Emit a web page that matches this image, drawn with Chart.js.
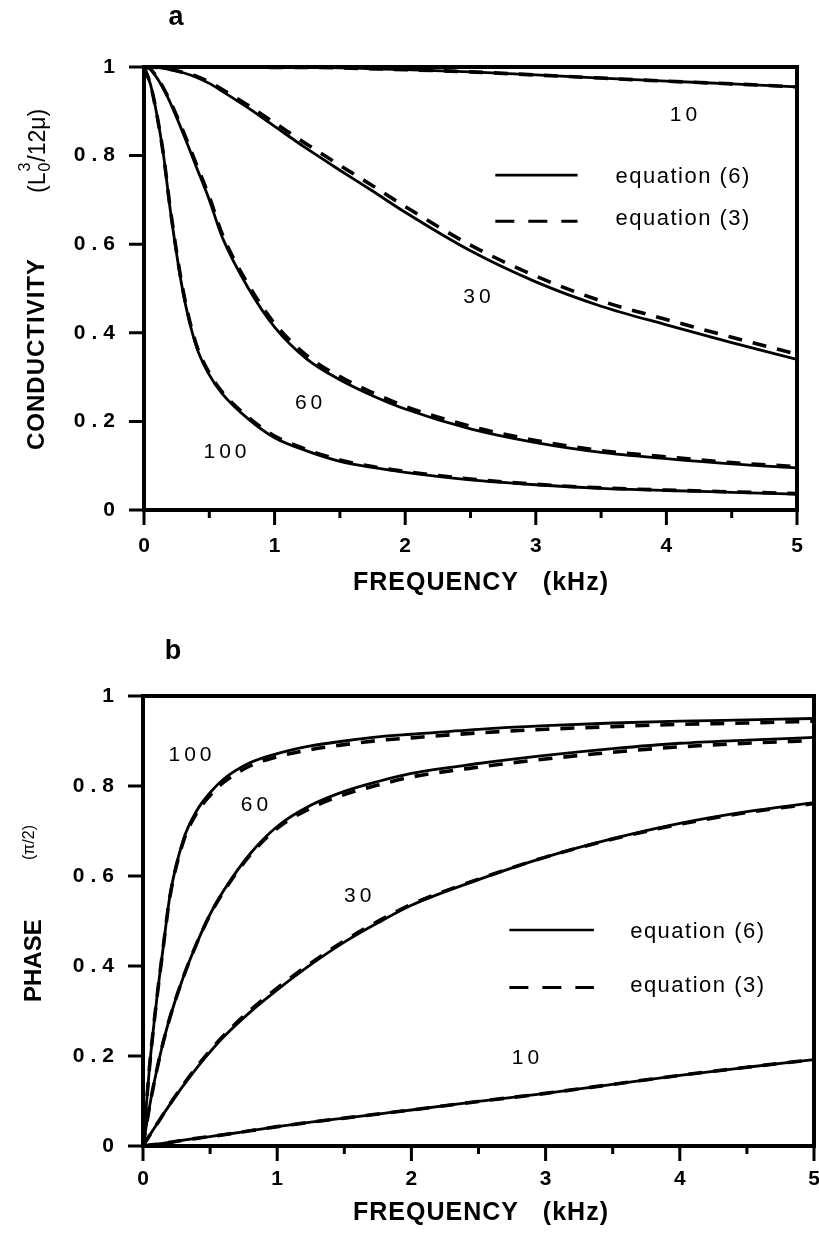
<!DOCTYPE html>
<html>
<head>
<meta charset="utf-8">
<script src="https://cdn.jsdelivr.net/npm/chart.js"></script>
<style>
  html, body { margin: 0; padding: 0; background: #fff; }
  #wrap { position: relative; width: 819px; height: 1235px; }
  canvas { position: absolute; left: 0; }
</style>
</head>
<body>
<div id="wrap">
  <canvas id="condChart" width="819" height="620" style="top:0"></canvas>
  <canvas id="phaseChart" width="819" height="615" style="top:620px"></canvas>
</div>
<script>
// frequency grid (kHz), shared by every curve
const freq = [0, 0.05, 0.1, 0.15, 0.2, 0.3, 0.4, 0.5, 0.6, 0.8, 1, 1.25, 1.5, 1.75, 2, 2.5, 3, 3.5, 4, 4.5, 5];

// a: normalised conductivity, eq (6) solid and eq (3) dashed
const cond6_10  = [1, 1, 1, 1, 1, 1, 1, 1, 1, 1, 0.999, 0.999, 0.998, 0.996, 0.994, 0.989, 0.982, 0.975, 0.968, 0.962, 0.955];
const cond3_10  = [1, 1, 1, 1, 1, 1, 1, 1, 1, 1, 0.999, 0.999, 0.998, 0.996, 0.994, 0.989, 0.982, 0.975, 0.968, 0.962, 0.955];
const cond6_30  = [1, 1, 0.999, 0.997, 0.994, 0.987, 0.977, 0.963, 0.945, 0.907, 0.866, 0.815, 0.767, 0.72, 0.672, 0.585, 0.515, 0.46, 0.418, 0.378, 0.34];
const cond3_30  = [1, 1, 0.999, 0.997, 0.995, 0.988, 0.979, 0.966, 0.949, 0.913, 0.874, 0.825, 0.778, 0.732, 0.685, 0.598, 0.528, 0.472, 0.43, 0.39, 0.352];
const cond6_60  = [1, 0.995, 0.975, 0.95, 0.92, 0.85, 0.775, 0.70, 0.615, 0.50, 0.413, 0.34, 0.294, 0.258, 0.228, 0.183, 0.152, 0.13, 0.116, 0.104, 0.095];
const cond3_60  = [1, 0.995, 0.976, 0.952, 0.923, 0.855, 0.781, 0.707, 0.622, 0.508, 0.421, 0.348, 0.301, 0.265, 0.234, 0.189, 0.157, 0.134, 0.12, 0.107, 0.098];
const cond6_100 = [1, 0.96, 0.89, 0.80, 0.68, 0.49, 0.37, 0.305, 0.262, 0.205, 0.163, 0.133, 0.11, 0.096, 0.085, 0.068, 0.057, 0.049, 0.044, 0.04, 0.036];
const cond3_100 = [1, 0.96, 0.89, 0.80, 0.683, 0.494, 0.374, 0.309, 0.266, 0.209, 0.167, 0.136, 0.113, 0.098, 0.087, 0.07, 0.058, 0.05, 0.045, 0.041, 0.037];

// b: phase in units of pi/2
const phase6_10  = [0, 0.002, 0.004, 0.006, 0.008, 0.013, 0.017, 0.021, 0.025, 0.034, 0.043, 0.053, 0.062, 0.071, 0.08, 0.099, 0.117, 0.137, 0.157, 0.175, 0.192];
const phase3_10  = [0, 0.002, 0.004, 0.006, 0.008, 0.013, 0.017, 0.021, 0.025, 0.034, 0.043, 0.053, 0.062, 0.071, 0.08, 0.099, 0.117, 0.137, 0.157, 0.175, 0.192];
const phase6_30  = [0, 0.024, 0.047, 0.07, 0.092, 0.134, 0.173, 0.209, 0.242, 0.298, 0.347, 0.403, 0.453, 0.496, 0.535, 0.592, 0.642, 0.683, 0.717, 0.743, 0.763];
const phase3_30  = [0, 0.024, 0.047, 0.07, 0.093, 0.136, 0.176, 0.212, 0.245, 0.302, 0.351, 0.406, 0.456, 0.499, 0.537, 0.593, 0.642, 0.682, 0.715, 0.741, 0.761];
const phase6_60  = [0, 0.09, 0.165, 0.23, 0.285, 0.375, 0.45, 0.515, 0.567, 0.65, 0.71, 0.757, 0.788, 0.81, 0.828, 0.85, 0.868, 0.883, 0.895, 0.902, 0.908];
const phase3_60  = [0, 0.09, 0.165, 0.23, 0.285, 0.375, 0.45, 0.514, 0.565, 0.647, 0.706, 0.751, 0.781, 0.802, 0.82, 0.842, 0.86, 0.875, 0.887, 0.895, 0.901];
const phase6_100 = [0, 0.18, 0.32, 0.44, 0.555, 0.68, 0.745, 0.785, 0.815, 0.852, 0.872, 0.889, 0.9, 0.909, 0.915, 0.926, 0.934, 0.94, 0.944, 0.947, 0.95];
const phase3_100 = [0, 0.18, 0.32, 0.44, 0.553, 0.676, 0.74, 0.779, 0.808, 0.845, 0.865, 0.881, 0.892, 0.901, 0.907, 0.918, 0.926, 0.932, 0.937, 0.94, 0.944];

// axis ticks
const xTicks = [0, 1, 2, 3, 4, 5];
const xTickLabels = ['0', '1', '2', '3', '4', '5'];
const xMinorTicks = [0.5, 1.5, 2.5, 3.5, 4.5];
const yTicks = [0, 0.2, 0.4, 0.6, 0.8, 1];
const yTickLabels = ['0', '0.2', '0.4', '0.6', '0.8', '1'];

const FONT = "'Liberation Sans', Arial, Helvetica, sans-serif";

function curve(ys, dashed) {
  return {
    data: freq.map((f, i) => ({ x: f, y: ys[i] })),
    borderColor: '#000',
    borderWidth: dashed ? 3.6 : 2.8,
    borderDash: dashed ? [14, 11] : [],
    pointRadius: 0,
    cubicInterpolationMode: 'monotone',
    fill: false
  };
}

function drawText(ctx, str, x, y, font, spacing, align) {
  ctx.font = font;
  ctx.letterSpacing = spacing + 'px';
  ctx.textAlign = align || 'left';
  ctx.textBaseline = 'middle';
  ctx.fillText(str, x, y);
}

// frame, tick marks, curve labels, legend and titles
function decorPlugin(d) {
  return {
    id: 'decor',
    // x labels are drawn before the datasets, y labels (ticks.z = 1) after them
    beforeDraw(chart) {
      chart.ctx.letterSpacing = '0px';
    },
    afterDatasetsDraw(chart) {
      chart.ctx.letterSpacing = '6px';
    },
    afterDraw(chart) {
      const ctx = chart.ctx;
      const a = chart.chartArea;
      const xs = chart.scales.x, ys = chart.scales.y;
      ctx.save();
      ctx.fillStyle = '#000';
      ctx.strokeStyle = '#000';
      ctx.lineCap = 'butt';

      ctx.lineWidth = 4;
      ctx.strokeRect(a.left, a.top, a.right - a.left, a.bottom - a.top);

      ctx.lineWidth = 3;
      ctx.beginPath();
      yTicks.forEach(v => {
        const py = ys.getPixelForValue(v);
        ctx.moveTo(a.left - 15, py);
        ctx.lineTo(a.left, py);
      });
      xTicks.forEach(v => {
        const px = xs.getPixelForValue(v);
        ctx.moveTo(px, a.bottom);
        ctx.lineTo(px, a.bottom + 15);
      });
      xMinorTicks.forEach(v => {
        const px = xs.getPixelForValue(v);
        ctx.moveTo(px, a.bottom);
        ctx.lineTo(px, a.bottom + 8);
      });
      ctx.stroke();

      // curve labels
      d.labels.forEach(l => {
        drawText(ctx, l.text, xs.getPixelForValue(l.x) + 2, ys.getPixelForValue(l.y), '21px ' + FONT, 4, 'center');
      });

      // legend
      const lg = d.legend;
      ctx.lineWidth = 2.6;
      ctx.setLineDash([]);
      ctx.beginPath();
      ctx.moveTo(xs.getPixelForValue(lg.x0), ys.getPixelForValue(lg.ySolid));
      ctx.lineTo(xs.getPixelForValue(lg.x1), ys.getPixelForValue(lg.ySolid));
      ctx.stroke();
      ctx.lineWidth = 3;
      ctx.setLineDash([19, 14]);
      ctx.beginPath();
      ctx.moveTo(xs.getPixelForValue(lg.x0), ys.getPixelForValue(lg.yDash));
      ctx.lineTo(xs.getPixelForValue(lg.x1), ys.getPixelForValue(lg.yDash));
      ctx.stroke();
      ctx.setLineDash([]);
      drawText(ctx, 'equation (6)', xs.getPixelForValue(lg.xText), ys.getPixelForValue(lg.ySolid) + 2, '22px ' + FONT, 1.5);
      drawText(ctx, 'equation (3)', xs.getPixelForValue(lg.xText), ys.getPixelForValue(lg.yDash) - 2, '22px ' + FONT, 1.5);

      // panel letter
      drawText(ctx, d.letter, d.letterX, d.letterY, 'bold 27px ' + FONT, 0, 'center');

      // x axis title
      drawText(ctx, 'FREQUENCY   (kHz)', 481, d.xTitleY, 'bold 25px ' + FONT, 1, 'center');

      // y axis title, rotated
      ctx.save();
      ctx.translate(d.yTitleX, d.yTitleStart);
      ctx.rotate(-Math.PI / 2);
      d.yTitle(ctx);
      ctx.restore();

      ctx.restore();
    }
  };
}

function makeChart(id, datasets, pad, yWidth, d) {
  const tickFont = { family: FONT, size: 21, weight: 'bold' };
  return new Chart(document.getElementById(id), {
    type: 'line',
    data: { datasets },
    options: {
      responsive: false,
      animation: false,
      devicePixelRatio: 1,
      layout: { padding: pad },
      plugins: { legend: { display: false }, tooltip: { enabled: false } },
      scales: {
        x: {
          type: 'linear', min: 0, max: 5,
          grid: { display: false, drawTicks: false },
          border: { display: false },
          ticks: { font: tickFont, color: '#000', padding: d.xTickPad, maxRotation: 0, autoSkip: false, z: 0,
                   callback: (v, i) => xTickLabels[i] },
          afterBuildTicks: s => { s.ticks = xTicks.map(v => ({ value: v })); },
          afterFit: s => { s.height = 80; s.paddingLeft = 0; s.paddingRight = 0; }
        },
        y: {
          type: 'linear', min: 0, max: 1,
          grid: { display: false, drawTicks: false },
          border: { display: false },
          ticks: { font: tickFont, color: '#000', padding: 23, autoSkip: false, z: 1,
                   callback: (v, i) => yTickLabels[i] },
          afterBuildTicks: s => { s.ticks = yTicks.map(v => ({ value: v })); },
          afterFit: s => { s.width = yWidth; s.paddingTop = 0; s.paddingBottom = 0; }
        }
      }
    },
    plugins: [decorPlugin(d)]
  });
}

makeChart('condChart', [
  curve(cond3_10, true), curve(cond3_30, true), curve(cond3_60, true), curve(cond3_100, true),
  curve(cond6_10, false), curve(cond6_30, false), curve(cond6_60, false), curve(cond6_100, false)
], { left: 0, top: 67, right: 22, bottom: 30 }, 144, {
  letter: 'a', letterX: 176, letterY: 18, xTitleY: 583, xTickPad: 24,
  labels: [
    { text: '10', x: 4.13, y: 0.892 },
    { text: '30', x: 2.55, y: 0.481 },
    { text: '60', x: 1.26, y: 0.242 },
    { text: '100', x: 0.62, y: 0.131 }
  ],
  legend: { x0: 2.69, x1: 3.32, xText: 3.61, ySolid: 0.756, yDash: 0.652 },
  yTitleX: 37, yTitleStart: 450,
  yTitle(ctx) {
    drawText(ctx, 'CONDUCTIVITY', 0, 0, 'bold 24px ' + FONT, 1);
    let x = 257;
    drawText(ctx, '(L', x, 2, '23px ' + FONT, 0);
    x += ctx.measureText('(L').width + 1;
    drawText(ctx, '0', x, 9, '16px ' + FONT, 0);
    drawText(ctx, '3', x, -11, '16px ' + FONT, 0);
    x += ctx.measureText('0').width + 1;
    drawText(ctx, '/12\u03BC)', x, 2, '23px ' + FONT, 0);
  }
});

makeChart('phaseChart', [
  curve(phase3_10, true), curve(phase3_30, true), curve(phase3_60, true), curve(phase3_100, true),
  curve(phase6_10, false), curve(phase6_30, false), curve(phase6_60, false), curve(phase6_100, false)
], { left: 0, top: 76, right: 5, bottom: 9 }, 143, {
  letter: 'b', letterX: 173, letterY: 32, xTitleY: 593, xTickPad: 21,
  labels: [
    { text: '100', x: 0.35, y: 0.869 },
    { text: '60', x: 0.83, y: 0.758 },
    { text: '30', x: 1.60, y: 0.556 },
    { text: '10', x: 2.85, y: 0.196 }
  ],
  legend: { x0: 2.73, x1: 3.36, xText: 3.63, ySolid: 0.48, yDash: 0.352 },
  yTitleX: 34, yTitleStart: 382,
  yTitle(ctx) {
    drawText(ctx, 'PHASE', 0, 0, 'bold 24px ' + FONT, 0);
    drawText(ctx, '(\u03C0/2)', 142, -4, '16px ' + FONT, 0);
  }
});
</script>
</body>
</html>
